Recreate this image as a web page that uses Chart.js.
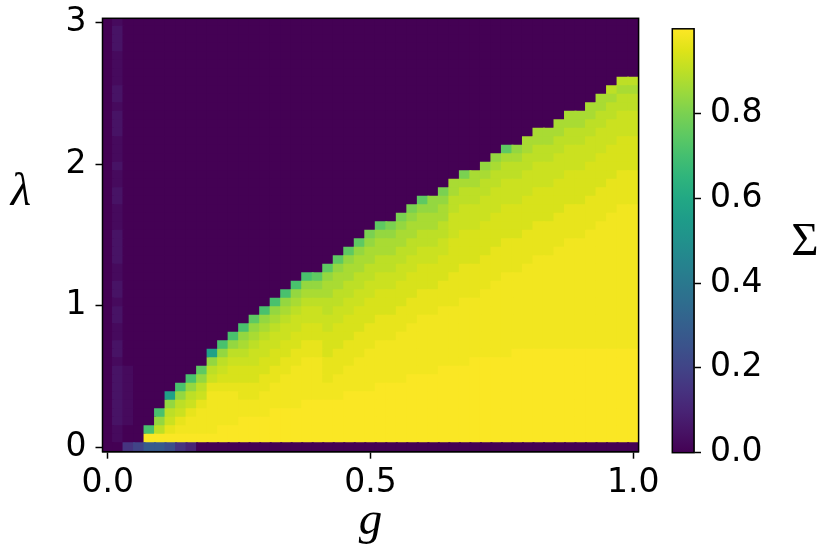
<!DOCTYPE html>
<html>
<head>
<meta charset="utf-8">
<script src="https://cdn.jsdelivr.net/npm/chart.js@4.4.1/dist/chart.umd.min.js"></script>
<style>
  html, body { margin: 0; padding: 0; background: #fff; }
  #wrap { position: relative; width: 830px; height: 557px; overflow: hidden; }
  #heat { position: absolute; left: 0; top: -20px; }
  #cbar { position: absolute; left: 640px; top: 0; }
</style>
</head>
<body>
<div id="wrap">
  <canvas id="heat" width="670" height="577"></canvas>
  <canvas id="cbar" width="190" height="557"></canvas>
</div>
<script>
// grid axes (cell centres)
const gValues = [0.00, 0.02, 0.04, 0.06, 0.08, 0.10, 0.12, 0.14, 0.16, 0.18,
  0.20, 0.22, 0.24, 0.26, 0.28, 0.30, 0.32, 0.34, 0.36, 0.38,
  0.40, 0.42, 0.44, 0.46, 0.48, 0.50, 0.52, 0.54, 0.56, 0.58,
  0.60, 0.62, 0.64, 0.66, 0.68, 0.70, 0.72, 0.74, 0.76, 0.78,
  0.80, 0.82, 0.84, 0.86, 0.88, 0.90, 0.92, 0.94, 0.96, 0.98, 1.00];
const lambdaValues = [0.00, 0.06, 0.12, 0.18, 0.24, 0.30, 0.36, 0.42, 0.48, 0.54,
  0.60, 0.66, 0.72, 0.78, 0.84, 0.90, 0.96, 1.02, 1.08, 1.14,
  1.20, 1.26, 1.32, 1.38, 1.44, 1.50, 1.56, 1.62, 1.68, 1.74,
  1.80, 1.86, 1.92, 1.98, 2.04, 2.10, 2.16, 2.22, 2.28, 2.34,
  2.40, 2.46, 2.52, 2.58, 2.64, 2.70, 2.76, 2.82, 2.88, 2.94, 3.00];

// Sigma levels
const sigmaLevels = {
  a: 0.0, b: 0.025, c: 0.05, d: 0.1, e: 0.15, f: 0.2, g: 0.24, h: 0.28,
  T: 0.57, G: 0.71, H: 0.75, I: 0.8, J: 0.84, K: 0.87, L: 0.9,
  M: 0.92, N: 0.94, O: 0.965, P: 0.982, Q: 0.995
};

// one string per g column, going up from lambda = 0
// letter = level, number after it = how many cells in a row
const sigmaColumns = [
  'a51',
  'ab2c7bc2b2c2bc2b2c4b3c2b2cb3c3bc2b4c3b',
  'ea2b7a41',
  'fa50',
  'hQGa48',
  'hQLJGa46',
  'gQOMLJTa44',
  'eQPOMLJGa43',
  'dQP2OMLJGa42',
  'aQP3OMLJHa41',
  'aQP5OMLJTa39',
  'aQ2P4ONMLJGa38',
  'aQ2P4ON2MLJGa37',
  'aQ3P2O2N2MLKJGa36',
  'aQ3P2O2N2M2LKJHa35',
  'aQ3P3O2N2M2LKJGa34',
  'aQ4P3O2N2M2LKJGa33',
  'aQ4P4O2N2M2LKJGa32',
  'aQ4P5O2N2M2LKJGa31',
  'aQ5P5O2N2M2LKJGa30',
  'aQ5P5O2N2M2LKJHa30',
  'aQ5P2O3N3M2L2K2JHa29',
  'aQ5P3O3N3M2L2K2JHa28',
  'aQ6P3O3N3M2L2K2JHa27',
  'aQ6P4O3N3M2L2K2JHa26',
  'aQ6P5O3N3M2L2K2JIa25',
  'aQ7P5O3N3M2L2K2JHa24',
  'aQ7P5O3N3M2L2K2JIa24',
  'aQ7P6O3N3M2L2K2JIa23',
  'aQ8P6O3N3M2L2K2JIa22',
  'aQ8P7O3N3M2L2K2JHa21',
  'aQ8P7O3N3M2L2K2JJa21',
  'aQ9P7O3N3M2L2K2JIa20',
  'aQ9P7O4N4M3L2KKa19',
  'aQ9P8O4N4M3L2KIa18',
  'aQ10P7O4N4M3L2KKa18',
  'aQ10P8O4N4M3L2KJa17',
  'aQ10P9O4N4M3L2KJa16',
  'aQ10P10O4N4M3L2KHa15',
  'aQ11P9O4N4M3L2KJa15',
  'aQ11P10O4N4M3L2KKa14',
  'aQ11P11O4N4M3L2KKa13',
  'aQ11P11O4N4M3L2KKa13',
  'aQ11P12O4N4M3L2KKa12',
  'aQ11P13O4N4M3L2KKa11',
  'aQ11P13O4N4M3L2KKa11',
  'aQ11P14O4N4M3L2KKa10',
  'aQ11P15O4N4M3L2KKa9',
  'aQ11P16O4N4M3L2KLa8',
  'aQ11P17O4N4M3L2KLa7',
  'aQ11P17O4N4M3L2KLa7'
];

const xTicks = [0, 0.5, 1];
const yTicks = [0, 1, 2, 3];
const colorbarTicks = [0, 0.2, 0.4, 0.6, 0.8];
const sigmaMin = 0;
const sigmaMax = 1;

const viridisStops = ['#440154', '#471365', '#482475', '#463480', '#414487', '#3b528b',
  '#355f8d', '#2f6c8e', '#2a788e', '#25848e', '#21918c', '#1e9c89', '#22a884',
  '#2fb47c', '#44bf70', '#5ec962', '#7ad151', '#9bd93c', '#bddf26', '#dfe318', '#fde725'];

function hexToRgb(h) {
  const n = parseInt(h.slice(1), 16);
  return [n >> 16, (n >> 8) & 255, n & 255];
}

function viridisColor(v) {
  const t = Math.min(1, Math.max(0, (v - sigmaMin) / (sigmaMax - sigmaMin)));
  const pos = t * (viridisStops.length - 1);
  const k = Math.min(viridisStops.length - 2, Math.floor(pos));
  const f = pos - k;
  const a = hexToRgb(viridisStops[k]), b = hexToRgb(viridisStops[k + 1]);
  const c = a.map((x, i) => Math.round(x + (b[i] - x) * f));
  return `rgb(${c[0]},${c[1]},${c[2]})`;
}

function expandColumn(code) {
  const out = [];
  code.replace(/([A-Za-z])(\d*)/g, (m, ch, n) => {
    const k = n ? parseInt(n, 10) : 1;
    for (let r = 0; r < k; r++) out.push(sigmaLevels[ch]);
    return m;
  });
  while (out.length < lambdaValues.length) out.push(0);
  return out.slice(0, lambdaValues.length);
}

const grid = sigmaColumns.map(expandColumn);   // grid[j][i]
// cells are drawn ~1px bigger than the grid step so no white seams show
const halfCell = 0.037;

const tickFont = { family: 'DejaVu Sans', size: 33 };

const framePlugin = {
  id: 'frame',
  afterDatasetsDraw(chart) {
    const { ctx, chartArea: a } = chart;
    ctx.save();
    ctx.strokeStyle = '#000';
    ctx.lineWidth = 1.5;
    ctx.strokeRect(a.left, a.top, a.right - a.left, a.bottom - a.top);
    ctx.restore();
  }
};

// upright math labels (matplotlib draws them unrotated)
function uprightLabel(id, text, x, y, style) {
  return {
    id,
    afterDraw(chart) {
      const ctx = chart.ctx;
      ctx.save();
      ctx.fillStyle = '#000';
      ctx.font = style;
      ctx.textAlign = 'center';
      ctx.textBaseline = 'alphabetic';
      ctx.fillText(text, x, y);
      ctx.restore();
    }
  };
}

// one dataset per lambda row
const heatDatasets = lambdaValues.map((lam, i) => ({
  data: gValues.map(g => ({ x: g, y: [lam - halfCell, lam + halfCell] })),
  backgroundColor: gValues.map((g, j) => viridisColor(grid[j][i])),
  borderWidth: 0,
  barPercentage: 1.19,
  categoryPercentage: 1,
  grouped: false
}));

new Chart(document.getElementById('heat'), {
  type: 'bar',
  data: { datasets: heatDatasets },
  options: {
    responsive: false,
    animation: false,
    layout: { padding: { top: 38.3, right: 31.4, left: 0, bottom: 0 } },
    plugins: { legend: { display: false }, tooltip: { enabled: false } },
    scales: {
      x: {
        type: 'linear',
        offset: false,
        min: -0.01,
        max: 1.01,
        afterBuildTicks: s => { s.ticks = xTicks.map(v => ({ value: v })); },
        afterFit: s => { s.height = 105.3; },
        ticks: { font: tickFont, color: '#000', padding: 5, maxRotation: 0, autoSkip: false,
          callback: v => Number(v).toFixed(1) },
        grid: { offset: false, drawOnChartArea: false, drawTicks: true, tickLength: 7, tickColor: '#000', tickWidth: 1.5 },
        border: { display: true, color: '#000', width: 1.5 },
        title: { display: true, text: 'g', color: '#000',
          font: { family: 'Liberation Serif', style: 'italic', size: 47 },
          padding: { top: 0, bottom: 7 } }
      },
      y: {
        type: 'linear',
        min: -0.03,
        max: 3.03,
        afterBuildTicks: s => { s.ticks = yTicks.map(v => ({ value: v })); },
        afterFit: s => { s.width = 102.5; },
        ticks: { font: tickFont, color: '#000', padding: 9, autoSkip: false,
          callback: v => String(v) },
        grid: { drawOnChartArea: false, drawTicks: true, tickLength: 7, tickColor: '#000', tickWidth: 1.5 },
        border: { display: true, color: '#000', width: 1.5 }
      }
    }
  },
  plugins: [framePlugin, uprightLabel('lambdaLabel', 'λ', 21, 225, 'italic 47px "Liberation Serif"')]
});

new Chart(document.getElementById('cbar'), {
  type: 'bar',
  data: {
    labels: [''],
    datasets: [{
      data: [[sigmaMin, sigmaMax]],
      backgroundColor: ctx => {
        const a = ctx.chart.chartArea;
        if (!a) return null;
        const grad = ctx.chart.ctx.createLinearGradient(0, a.bottom, 0, a.top);
        viridisStops.forEach((c, k) => grad.addColorStop(k / (viridisStops.length - 1), c));
        return grad;
      },
      borderWidth: 0,
      barPercentage: 1,
      categoryPercentage: 1
    }]
  },
  options: {
    responsive: false,
    animation: false,
    layout: { padding: { top: 19, left: 32.3, right: 0, bottom: 104.3 } },
    plugins: { legend: { display: false }, tooltip: { enabled: false } },
    scales: {
      x: { display: false },
      y: {
        position: 'right',
        min: sigmaMin,
        max: sigmaMax,
        afterBuildTicks: s => { s.ticks = colorbarTicks.map(v => ({ value: v })); },
        afterFit: s => { s.width = 136; },
        ticks: { font: tickFont, color: '#000', padding: 9, autoSkip: false,
          callback: v => Number(v).toFixed(1) },
        grid: { drawOnChartArea: false, drawTicks: true, tickLength: 7, tickColor: '#000', tickWidth: 1.5 },
        border: { display: true, color: '#000', width: 1.5 }
      }
    }
  },
  plugins: [framePlugin, uprightLabel('sigmaLabel', 'Σ', 165, 255, '47px "Liberation Serif"')]
});
</script>
</body>
</html>
